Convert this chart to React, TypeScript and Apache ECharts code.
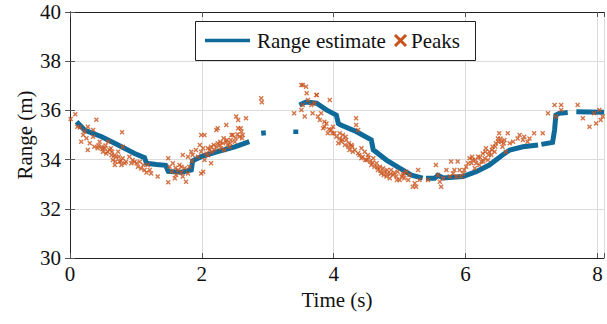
import React, { useEffect, useRef } from "react";
import * as echarts from "echarts";

const xTicks = [0, 2, 4, 6, 8];
const yTicks = [30, 32, 34, 36, 38, 40];
const xName = "Time (s)";
const yName = "Range (m)";

// Range estimate (time s, range m); "-" marks a gap
const rangeEstimate: (number | string)[][] = [
  [0.1, 35.54], [0.22, 35.2], [0.48, 34.93], [0.73, 34.59], [0.98, 34.25], [1.13, 34.08],
  [1.16, 33.85], [1.31, 33.8], [1.45, 33.77], [1.49, 33.52], [1.69, 33.49], [1.84, 33.58],
  [1.86, 33.95], [1.99, 34.12], [2.24, 34.32], [2.5, 34.52], [2.72, 34.73],
  ["-", "-"],
  [2.9, 35.07], [2.97, 35.09],
  ["-", "-"],
  [3.425, 35.04], [3.425, 35.22],
  ["-", "-"],
  [3.48, 36.22], [3.58, 36.34], [3.74, 36.29], [3.89, 36.02], [4.04, 35.81], [4.07, 35.47],
  [4.1, 35.42], [4.34, 35.14], [4.57, 34.8], [4.6, 34.4], [4.8, 33.98], [5.0, 33.65],
  [5.18, 33.37], [5.35, 33.25],
  ["-", "-"],
  [5.4, 33.24], [5.53, 33.24], [5.58, 33.36], [5.66, 33.25], [5.96, 33.31], [6.16, 33.51],
  [6.36, 33.78], [6.56, 34.19], [6.67, 34.39], [6.87, 34.52], [7.1, 34.59],
  ["-", "-"],
  [7.15, 34.62], [7.32, 34.7], [7.35, 35.2], [7.37, 35.81], [7.42, 35.88], [7.55, 35.91],
  ["-", "-"],
  [7.68, 35.95], [8.1, 35.92],
];

// Peaks (time s, range m)
const peaks: number[][] = [
  [0.01, 35.65], [0.08, 35.84], [0.4, 35.62], [0.11, 35.34], [0.15, 35.3], [0.2, 35.0],
  [0.22, 35.14], [0.17, 34.73], [0.25, 34.87], [0.27, 35.34], [0.3, 34.66], [0.27, 34.39],
  [0.35, 35.2], [0.35, 34.93], [0.37, 34.52], [0.42, 34.46], [0.45, 34.73], [0.48, 34.52],
  [0.5, 34.32], [0.53, 34.46], [0.55, 34.25], [0.58, 34.73], [0.6, 34.39], [0.63, 34.18],
  [0.65, 33.98], [0.68, 33.78], [0.7, 34.12], [0.73, 34.32], [0.75, 33.91], [0.78, 33.78],
  [0.8, 34.05], [0.8, 34.52], [0.79, 35.11], [0.83, 33.85], [0.85, 33.91], [0.9, 34.12],
  [0.93, 33.85], [0.98, 33.91], [1.03, 33.71], [1.06, 33.91], [1.08, 33.64], [1.13, 33.58],
  [1.18, 33.78], [1.23, 33.44], [1.33, 33.31], [1.49, 34.05], [1.51, 33.71], [1.54, 33.51],
  [1.59, 33.24], [1.49, 33.08], [1.61, 33.38], [1.64, 33.58], [1.69, 33.71], [1.71, 33.31],
  [1.76, 33.1], [1.79, 33.44], [1.71, 34.19], [1.79, 34.12], [1.84, 34.32], [1.86, 34.19],
  [1.91, 34.39], [1.94, 34.12], [1.97, 34.59], [1.99, 35.0], [2.04, 35.0], [1.99, 34.32],
  [2.02, 34.46], [2.04, 33.98], [1.99, 33.44], [2.02, 33.51], [2.07, 34.25], [2.09, 34.18],
  [2.12, 34.39], [2.14, 34.52], [2.14, 33.85], [2.19, 34.39], [2.22, 35.2], [2.24, 35.27],
  [2.22, 34.52], [2.27, 34.59], [2.29, 34.46], [2.32, 34.66], [2.34, 34.39], [2.37, 35.41],
  [2.37, 34.73], [2.39, 34.59], [2.42, 34.52], [2.44, 34.8], [2.47, 35.0], [2.5, 34.73],
  [2.52, 35.75], [2.55, 35.61], [2.55, 35.27], [2.57, 34.93], [2.6, 35.14], [2.62, 35.0],
  [2.67, 35.68], [2.9, 36.49], [2.91, 36.33], [3.4, 35.88],
  [3.51, 37.03], [3.59, 36.7], [3.74, 36.63], [3.53, 37.03], [3.58, 36.96], [3.51, 36.02],
  [3.53, 36.22], [3.56, 35.75], [3.61, 36.42], [3.66, 36.22], [3.68, 35.88], [3.71, 36.29],
  [3.74, 36.63], [3.76, 35.75], [3.79, 35.61], [3.81, 35.88], [3.84, 35.27], [3.86, 35.54],
  [3.89, 35.47], [3.91, 35.07], [3.94, 36.42], [3.96, 35.2], [3.99, 35.34], [4.01, 35.07],
  [4.04, 34.93], [4.07, 34.66], [4.09, 34.86], [4.12, 34.73], [4.14, 35.0], [4.17, 34.59],
  [4.19, 34.8], [4.22, 34.52], [4.24, 34.39], [4.27, 34.59], [4.29, 34.32], [4.34, 35.68],
  [4.34, 35.41], [4.37, 35.2], [4.39, 34.19], [4.42, 34.46], [4.44, 34.12], [4.47, 34.32],
  [4.5, 33.98], [4.52, 34.19], [4.55, 33.92], [4.57, 33.78], [4.6, 34.05], [4.62, 33.71],
  [4.65, 33.85], [4.67, 33.58], [4.7, 33.71], [4.72, 33.44], [4.75, 33.65], [4.77, 33.51],
  [4.8, 33.31], [4.82, 33.44], [4.85, 33.24], [4.87, 33.58], [4.9, 33.37], [4.95, 33.31],
  [4.97, 33.51], [5.0, 33.17], [5.05, 33.37], [5.07, 33.24], [5.1, 33.51], [5.13, 33.17],
  [5.15, 33.37], [5.2, 32.9], [5.23, 33.04], [5.25, 32.9], [5.28, 33.58], [5.3, 33.17],
  [5.43, 33.17], [5.55, 33.78], [5.58, 33.37], [5.61, 33.1], [5.63, 32.9], [5.66, 33.24],
  [5.71, 33.58], [5.76, 33.31], [5.78, 33.92], [5.81, 33.44], [5.83, 33.58], [5.86, 33.31],
  [5.88, 33.92], [5.91, 33.58], [5.93, 33.31], [5.96, 33.44], [6.01, 33.71], [6.06, 34.05],
  [6.09, 33.85], [6.11, 33.98], [6.14, 33.65], [6.16, 33.85], [6.19, 34.12], [6.21, 33.78],
  [6.24, 33.92], [6.26, 34.25], [6.29, 34.05], [6.31, 34.46], [6.34, 33.98], [6.36, 34.32],
  [6.39, 34.19], [6.41, 34.52], [6.44, 34.32], [6.46, 34.66], [6.49, 34.86], [6.51, 35.07],
  [6.54, 34.73], [6.56, 34.52], [6.59, 34.8], [6.61, 34.32], [6.64, 35.07], [6.67, 34.66],
  [6.72, 34.73], [6.79, 34.86], [6.82, 35.0], [6.87, 34.8], [6.89, 34.93], [6.94, 34.73],
  [6.97, 34.86], [7.04, 35.07], [7.17, 35.07], [7.25, 35.88], [7.35, 36.22], [7.37, 35.75],
  [7.45, 36.22], [7.45, 36.02], [7.7, 36.22], [7.78, 35.68], [7.88, 35.34], [7.95, 35.88],
  [7.98, 35.47], [8.03, 36.02], [8.08, 35.75], [8.05, 35.61],
  [0.43, 34.57], [0.49, 34.43], [0.54, 34.57], [0.57, 34.32], [0.62, 34.46], [0.64, 34.32],
  [0.67, 34.16], [0.69, 33.92], [0.74, 34.12], [0.77, 33.94], [0.95, 33.98], [1.01, 33.85],
  [1.11, 33.78], [1.16, 33.48], [1.21, 33.58], [1.56, 33.85], [1.6, 33.67], [1.66, 33.78],
  [1.69, 33.48], [1.74, 33.65], [1.81, 33.71], [1.85, 33.94], [2.09, 34.46], [2.15, 34.32],
  [2.18, 34.59], [2.24, 34.66], [2.28, 34.73], [2.33, 34.87], [2.38, 34.8], [2.43, 34.66],
  [2.45, 35.0], [2.51, 34.87], [2.54, 35.03], [2.59, 35.27], [2.61, 34.87], [3.86, 35.34],
  [3.93, 35.23], [3.98, 35.07], [4.09, 35.07], [4.13, 34.82], [4.18, 34.93], [4.23, 34.66],
  [4.28, 34.53], [4.32, 34.39], [4.37, 34.26], [4.42, 34.05], [4.48, 33.98], [4.53, 34.09],
  [4.59, 33.88], [4.66, 33.69], [4.71, 33.55], [4.76, 33.37], [4.81, 33.58], [4.86, 33.41],
  [4.92, 33.47], [4.96, 33.17], [5.03, 33.31], [5.06, 33.44], [5.98, 33.58], [6.04, 33.85],
  [6.1, 34.12], [6.15, 33.98], [6.22, 34.09], [6.27, 33.92], [6.3, 34.32], [6.35, 34.19],
  [6.4, 34.39], [6.45, 34.53], [6.5, 34.73], [6.53, 34.86], [6.58, 34.66],
];

const BLUE = "#0f6a9a";
const ORANGE = "#c9521c";
const FONT = "21px Liberation Serif";
const X_PATH = "path://M0,2L2,0L5,3L8,0L10,2L7,5L10,8L8,10L5,7L2,10L0,8L3,5Z";

export default function App() {
  const ref = useRef<HTMLDivElement>(null);
  useEffect(() => {
    if (!ref.current) return;
    const chart = echarts.init(ref.current, null, { renderer: "svg" });
    const tickStyle = { show: true, inside: true, length: 5, lineStyle: { color: "#555" } };
    const axisBase = {
      axisLine: { show: true, lineStyle: { color: "#222", width: 1 } },
      axisTick: tickStyle,
      axisLabel: { show: false },
    };
    chart.setOption({
      animation: false,
      backgroundColor: "#fff",
      grid: { left: 70, right: 3, top: 12, bottom: 66 },
      xAxis: [
        { type: "value", min: 0, max: 8.1, interval: 2, ...axisBase,
          splitLine: { show: true, lineStyle: { color: "#dcdcdc", width: 1 } } },
        { type: "value", min: 0, max: 8.1, interval: 2, position: "top", ...axisBase, splitLine: { show: false } },
      ],
      yAxis: [
        { type: "value", min: 30, max: 40, interval: 2, ...axisBase,
          splitLine: { show: true, lineStyle: { color: "#dcdcdc", width: 1 } } },
        { type: "value", min: 30, max: 40, interval: 2, position: "right", ...axisBase, splitLine: { show: false } },
      ],
      series: [
        {
          name: "Range estimate", type: "line", data: rangeEstimate,
          showSymbol: false, connectNulls: false, z: 2,
          lineStyle: { color: BLUE, width: 5, cap: "butt", join: "miter" },
        },
        {
          name: "Peaks", type: "scatter", data: peaks, z: 3,
          symbol: X_PATH, symbolSize: 5,
          itemStyle: { color: ORANGE },
        },
      ],
    });

    // Axis texts placed through the library's own scales
    const px = (v: number) => chart.convertToPixel({ xAxisIndex: 0 }, v) as number;
    const py = (v: number) => chart.convertToPixel({ yAxisIndex: 0 }, v) as number;
    const left = px(0);
    const right = px(8.1);
    const bottom = py(30);
    const top = py(40);
    const textFill = "#111";

    const xLabels = xTicks.map((v) => ({
      type: "text", x: px(v), y: bottom + 5,
      style: { text: String(v), font: FONT, fill: textFill, textAlign: "center", textVerticalAlign: "top" },
    }));
    const yLabels = yTicks.map((v) => ({
      type: "text", x: left - 9, y: py(v),
      style: { text: String(v), font: FONT, fill: textFill, textAlign: "right", textVerticalAlign: "middle" },
    }));

    chart.setOption({
      graphic: [
        ...xLabels,
        ...yLabels,
        {
          type: "text", x: (left + right) / 2, y: bottom + 42,
          style: { text: xName, font: FONT, fill: textFill, textAlign: "center", textVerticalAlign: "middle" },
        },
        {
          type: "text", x: 25, y: (top + bottom) / 2, rotation: Math.PI / 2,
          style: { text: yName, font: FONT, fill: textFill, textAlign: "center", textVerticalAlign: "middle" },
        },
        {
          type: "group", z: 100,
          children: [
            { type: "rect", shape: { x: 195.5, y: 21.5, width: 280, height: 39 }, style: { fill: "#fff", stroke: "#222", lineWidth: 1 } },
            { type: "line", shape: { x1: 205, y1: 40.5, x2: 250, y2: 40.5 }, style: { stroke: BLUE, lineWidth: 3.5 } },
            { type: "text", x: 257, y: 41, style: { text: "Range estimate", font: FONT, fill: textFill, textVerticalAlign: "middle" } },
            { type: "line", shape: { x1: 395, y1: 35, x2: 406, y2: 46 }, style: { stroke: ORANGE, lineWidth: 3 } },
            { type: "line", shape: { x1: 406, y1: 35, x2: 395, y2: 46 }, style: { stroke: ORANGE, lineWidth: 3 } },
            { type: "text", x: 411, y: 41, style: { text: "Peaks", font: FONT, fill: textFill, textVerticalAlign: "middle" } },
          ],
        },
      ],
    });
    return () => chart.dispose();
  }, []);
  return <div ref={ref} style={{ position: "absolute", left: 0, top: 0, width: 607, height: 324 }} />;
}
